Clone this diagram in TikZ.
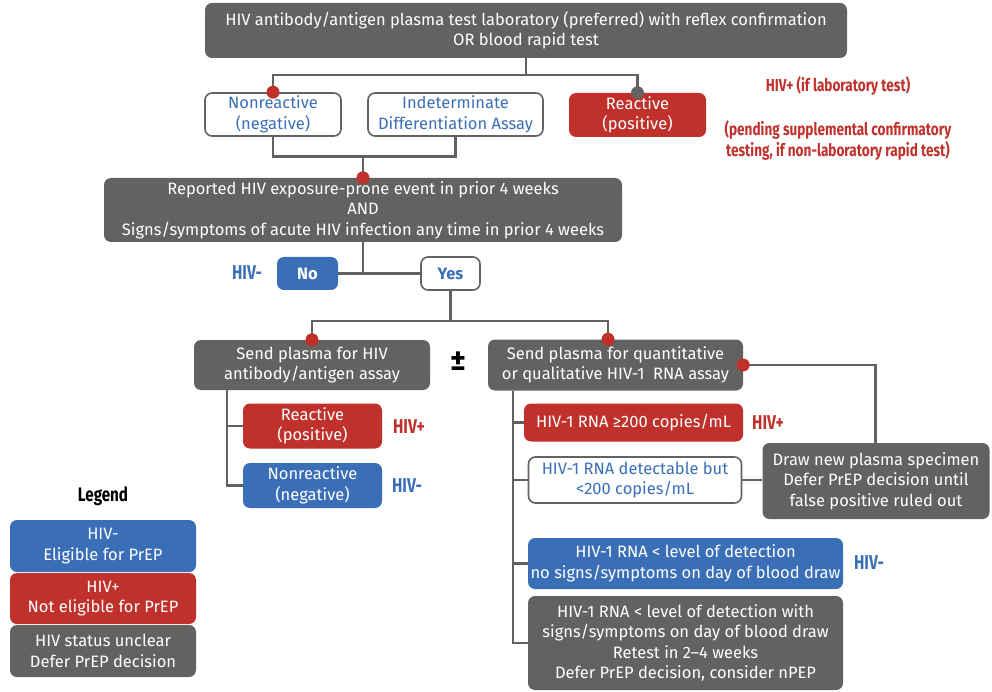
\documentclass[tikz,border=0pt]{standalone}
\usepackage{fontspec}
\setmainfont{Fira Sans}
\newfontfamily\condfont{Fira Sans}[FakeStretch=0.78]
\usetikzlibrary{calc}
\definecolor{dkgray}{HTML}{646161}
\definecolor{myred}{HTML}{C0312B}
\definecolor{myblue}{HTML}{3A6FB8}
\begin{document}
\begin{tikzpicture}[x=1pt,y=-1pt,
  box/.style 2 args={rounded corners=7pt, minimum width=#1pt, minimum height=#2pt,
    align=center, inner sep=0pt, font=\fontsize{16.5}{20.5}\selectfont},
  gbox/.style={fill=dkgray, text=white},
  rbox/.style={fill=myred, text=white},
  bbox/.style={fill=myblue, text=white},
  wbox/.style={draw=dkgray, line width=1.6pt, fill=white, text=myblue},
  conn/.style={draw=dkgray, line width=2.6pt},
  lab/.style={font=\condfont\bfseries\fontsize{20}{22}\selectfont, inner sep=0pt},
  note/.style={font=\condfont\bfseries\fontsize{17.4}{21}\selectfont, text=myred, align=center, inner sep=0pt},
  reddot/.style={fill=myred, draw=none},
  graydot/.style={fill=dkgray, draw=none}]
\useasboundingbox (0,0) rectangle (992,692);

% main decision boxes
\node[box={642}{55}, gbox] (top) at (526,30.5)
  {HIV antibody/antigen plasma test laboratory (preferred) with reflex confirmation\\OR blood rapid test};
\node[box={136}{43}, wbox] (nonr) at (273,114.5) {Nonreactive\\(negative)};
\node[box={175}{43}, wbox] (indet) at (455.5,114.5) {Indeterminate\\Differentiation Assay};
\node[box={137}{44}, rbox] (react) at (637.5,115) {Reactive\\(positive)};
\node[box={518}{64}, gbox] (event) at (363,210)
  {Reported HIV exposure-prone event in prior 4 weeks\\AND\\Signs/symptoms of acute HIV infection any time in prior 4 weeks};
\node[box={61}{33}, bbox, font=\bfseries\fontsize{16.5}{20}\selectfont] (no) at (307.5,273.5) {No};
\node[box={59}{33}, wbox, font=\bfseries\fontsize{16.5}{20}\selectfont] (yes) at (450.5,273.5) {Yes};
\node[box={236}{50}, gbox] (assayL) at (312,365) {Send plasma for HIV\\antibody/antigen assay};
\node[box={255}{51}, gbox] (assayR) at (615.5,365) {Send plasma for quantitative\\or qualitative HIV-1\ \ RNA assay};
\node[box={139}{45}, rbox] (react2) at (312.5,426) {Reactive\\(positive)};
\node[box={139}{45}, bbox] (nonr2) at (312.5,485.5) {Nonreactive\\(negative)};
\node[box={219}{38}, rbox] (rna200) at (633.5,422.5) {HIV-1 RNA ≥200 copies/mL};
\node[box={213}{46}, wbox] (detect) at (635,480) {HIV-1 RNA detectable but\\<200 copies/mL};
\node[box={227}{76}, gbox] (drawnew) at (876,481)
  {Draw new plasma specimen\\Defer PrEP decision until\\false positive ruled out};
\node[box={315}{51}, bbox] (lod) at (685.5,563.5)
  {HIV-1 RNA < level of detection\\no signs/symptoms on day of blood draw};
\node[box={315}{94}, gbox] (lodw) at (685.5,643)
  {HIV-1 RNA < level of detection with\\signs/symptoms on day of blood draw\\Retest in 2–4 weeks\\Defer PrEP decision, consider nPEP};

% status labels
\node[lab, text=myblue] (lNo) at (247,273) {HIV-};
\node[lab, text=myred] (lR2) at (409,427) {HIV+};
\node[lab, text=myblue] (lN2) at (407,486) {HIV-};
\node[lab, text=myred] (lRna) at (768,423) {HIV+};
\node[lab, text=myblue] (lLod) at (869,563) {HIV-};
\node[note] (nLab) at (838,86) {HIV+ (if laboratory test)};
\node[note] (nRapid) at (838,140) {(pending supplemental confirmatory\\testing, if non-laboratory rapid test)};
\node[font=\bfseries\fontsize{30}{30}\selectfont, inner sep=0pt] (pm) at (458,361) {±};

% connectors
\coordinate (j1) at ($(top.south)+(0,17)$);
\draw[conn] (top.south) -- (j1);
\draw[conn] (nonr.north) |- (j1) -| (react.north);
\coordinate (j2) at ($(event.north)+(0,-21)$);
\draw[conn] (nonr.south) |- (j2);
\draw[conn] (indet.south) |- (j2);
\draw[conn] (j2) -- (event.north);
\coordinate (j3) at (event.south |- no.east);
\draw[conn] (event.south) -- (j3);
\draw[conn] (no.east) -- (yes.west);
\coordinate (dL) at (assayL.north);
\coordinate (dR) at ([xshift=-7.5pt]assayR.north);
\coordinate (j4) at ($(yes.south)+(0,30)$);
\draw[conn] (yes.south) -- (j4);
\draw[conn] (dL) |- (j4) -| (dR);
\coordinate (k1) at ($(assayR.east)+(132,0)$);
\draw[conn] (assayR.east) -- (k1) -- (k1 |- drawnew.north);
\coordinate (tL) at ([xshift=33pt]assayL.south west);
\draw[conn] (tL) |- (nonr2.west);
\draw[conn] (tL |- react2.west) -- (react2.west);
\coordinate (tR) at ([xshift=25pt]assayR.south west);
\draw[conn] (tR) |- (lodw.west);
\draw[conn] (tR |- rna200.west) -- (rna200.west);
\draw[conn] (tR |- detect.west) -- (detect.west);
\draw[conn] (tR |- lod.west) -- (lod.west);
\draw[conn] (detect.east) -- (detect.east -| drawnew.west);

% junction dots
\fill[reddot] (nonr.north) circle (6.5);
\fill[graydot] (react.north) circle (6.5);
\fill[reddot] (event.north) circle (6.5);
\fill[reddot] (dL) circle (6.5);
\fill[reddot] (dR) circle (6.5);
\fill[reddot] (assayR.east) circle (6.5);

% legend
\node[font=\condfont\bfseries\fontsize{19.5}{22}\selectfont, inner sep=0pt] (legTitle) at (103,496) {Legend};
\node[box={186}{52}, bbox] (legB) at (103,546) {HIV-\\Eligible for PrEP};
\node[box={186}{51}, rbox] (legR) at (103,598.5) {HIV+\\Not eligible for PrEP};
\node[box={186}{52}, gbox] (legG) at (103,651) {HIV status unclear\\Defer PrEP decision};
\end{tikzpicture}
\end{document}
